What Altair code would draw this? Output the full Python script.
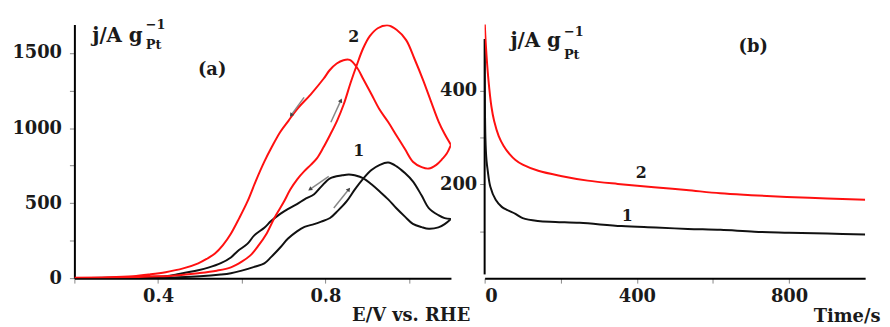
import altair as alt
import pandas as pd

# ---------------- Panel (a): cyclic voltammograms ----------------
# curve 1 (black) forward scan
E1_fwd = [0.20, 0.30, 0.40, 0.45, 0.50, 0.55, 0.574, 0.60, 0.63, 0.654, 0.67, 0.692, 0.71, 0.732,
          0.75, 0.773, 0.79, 0.811, 0.83, 0.851, 0.87, 0.891, 0.91, 0.93, 0.95, 0.97, 0.99, 1.009,
          1.03, 1.047, 1.07, 1.085, 1.10]
J1_fwd = [0, 1, 3, 6, 12, 24, 33, 50, 75, 99, 140, 204, 262, 312,
          342, 360, 377, 401, 450, 513, 590, 665, 720, 755, 770, 745, 700, 645,
          550, 467, 420, 400, 395]
# curve 1 (black) reverse scan
E1_rev = [1.10, 1.085, 1.07, 1.047, 1.03, 1.009, 0.99, 0.969, 0.95, 0.929, 0.91, 0.891, 0.87, 0.856,
          0.84, 0.811, 0.79, 0.773, 0.75, 0.732, 0.71, 0.692, 0.67, 0.654, 0.63, 0.614, 0.59, 0.574,
          0.55, 0.52, 0.496, 0.45, 0.418, 0.38, 0.34, 0.20]
J1_rev = [395, 360, 338, 329, 340, 362, 410, 467, 525, 579, 625, 665, 685, 691,
          685, 665, 610, 559, 525, 493, 460, 428, 380, 336, 285, 230, 180, 138,
          100, 70, 53, 28, 13, 8, 5, 0]
# curve 2 (red) forward scan
E2_fwd = [0.20, 0.30, 0.40, 0.45, 0.496, 0.54, 0.574, 0.60, 0.62, 0.638, 0.66, 0.678, 0.70, 0.716,
          0.733, 0.749, 0.765, 0.78, 0.795, 0.811, 0.828, 0.844, 0.86, 0.875, 0.89, 0.906, 0.925,
          0.948, 0.97, 0.993, 1.013, 1.033, 1.052, 1.071, 1.085, 1.10]
J2_fwd = [2, 4, 12, 20, 33, 50, 72, 110, 150, 210, 300, 401, 505, 590,
          660, 711, 755, 800, 870, 954, 1050, 1160, 1300, 1420, 1530, 1612, 1665,
          1685, 1655, 1586, 1460, 1323, 1180, 1040, 960, 888]
# curve 2 (red) reverse scan
E2_rev = [1.10, 1.09, 1.08, 1.065, 1.047, 1.03, 1.009, 0.99, 0.969, 0.95, 0.929, 0.91, 0.891, 0.875,
          0.858, 0.843, 0.827, 0.81, 0.796, 0.765, 0.732, 0.712, 0.692, 0.673, 0.654, 0.634, 0.614,
          0.594, 0.574, 0.555, 0.536, 0.516, 0.496, 0.46, 0.418, 0.38, 0.34, 0.28, 0.20]
J2_rev = [888, 830, 796, 755, 730, 740, 776, 860, 954, 1040, 1125, 1225, 1323, 1405,
          1454, 1452, 1430, 1385, 1330, 1225, 1125, 1050, 974, 880, 776, 650, 513,
          400, 296, 220, 164, 128, 99, 65, 40, 25, 13, 6, 3]

# scan-direction arrows (start E, start j, end E, end j)
arrow_E1 = [0.749, 0.813, 0.808, 0.820]
arrow_J1 = [1204, 1039, 678, 467]
arrow_E2 = [0.718, 0.837, 0.763, 0.856]
arrow_J2 = [1086, 1184, 592, 592]
arrow_angle = [216, 24, 236, 38]

# ---------------- Panel (b): chronoamperometry ----------------
t1 = [0, 2, 5, 8, 15, 29, 45, 60, 81, 100, 140, 186, 250, 360, 450, 534, 620, 709, 800, 900, 1000]
j1 = [510, 300, 250, 230, 195, 167, 152, 145, 137, 128, 122, 120, 118, 111, 108, 105, 103, 99, 97, 95, 93]
t2 = [0, 3, 10, 18, 25, 37, 50, 65, 81, 100, 141, 200, 271, 350, 445, 530, 619, 700, 794, 900, 1000]
j2 = [550, 500, 423, 365, 335, 303, 282, 265, 252, 242, 229, 218, 208, 201, 194, 188, 181, 177, 173, 170, 167]

series_names = ["1", "2"]
series_colors = ["#111111", "#ff1010"]

FONT = "DejaVu Serif"


def loop(E_f, J_f, E_r, J_r, name):
    E = E_f + E_r
    J = J_f + J_r
    return pd.DataFrame({"E": E, "j": J, "s": name, "i": list(range(len(E)))})


cv = pd.concat([loop(E1_fwd, J1_fwd, E1_rev, J1_rev, "1"),
                loop(E2_fwd, J2_fwd, E2_rev, J2_rev, "2")], ignore_index=True)
ca = pd.concat([pd.DataFrame({"t": t1, "j": j1, "s": "1", "i": range(len(t1))}),
                pd.DataFrame({"t": t2, "j": j2, "s": "2", "i": range(len(t2))})], ignore_index=True)
arrows = pd.DataFrame({"E1": arrow_E1, "J1": arrow_J1, "E2": arrow_E2, "J2": arrow_J2, "ang": arrow_angle})

axis_common = dict(labelFont=FONT, labelFontWeight="bold", labelFontSize=18, labelColor="#1a1a1a",
                   tickColor="#888888", tickSize=5, tickWidth=1, domainColor="#000000",
                   domainWidth=2, grid=False,
                   titleFont=FONT, titleFontWeight="bold", titleFontSize=18, titleColor="#1a1a1a")

color_enc = alt.Color("s:N", scale=alt.Scale(domain=series_names, range=series_colors), legend=None)

W_A, W_B, H = 380, 384, 256

xa = alt.X("E:Q", scale=alt.Scale(domain=[0.2, 1.1], nice=False, zero=False),
           axis=alt.Axis(values=[0.2, 0.4, 0.6, 0.8, 1.0], format=".1f", labelPadding=5,
                         labelExpr="(abs(datum.value-0.4)<0.01 || abs(datum.value-0.8)<0.01) ? datum.label : ''",
                         title="E/V vs. RHE", titleX=399, titleY=38, titleAlign="right",
                         titleBaseline="middle", **axis_common))
ya = alt.Y("j:Q", scale=alt.Scale(domain=[0, 1690], nice=False),
           axis=alt.Axis(values=[0, 250, 500, 750, 1000, 1250, 1500], format="d", labelPadding=8,
                         labelExpr="datum.value % 500 == 0 ? datum.label : ''",
                         title=None, **axis_common))

cv_lines = alt.Chart(cv).mark_line(strokeWidth=2, clip=True, interpolate="catmull-rom").encode(
    x=xa, y=ya, color=color_enc, detail="s:N", order="i:Q")

arrow_shaft = alt.Chart(arrows).mark_rule(color="#888888", strokeWidth=1.5).encode(
    x="E1:Q", y="J1:Q", x2="E2:Q", y2="J2:Q")
arrow_head = alt.Chart(arrows).mark_point(shape="triangle-up", filled=True, size=22,
                                          color="#444444", opacity=1).encode(
    x="E2:Q", y="J2:Q", angle=alt.Angle("ang:Q", scale=None))


def txt(s, x, y, size=18, align="left", baseline="alphabetic"):
    return alt.Chart(pd.DataFrame({"t": [s]})).mark_text(
        font=FONT, fontWeight="bold", fontSize=size, color="#1a1a1a",
        align=align, baseline=baseline).encode(text="t:N", x=alt.value(x), y=alt.value(y))


label_j = "j/A g"
label_sup = "\u22121"
label_sub = "Pt"
panel_a_tag = "(a)"
panel_b_tag = "(b)"

panel_a = alt.layer(
    cv_lines, arrow_shaft, arrow_head,
    txt(label_j, 18, 18, 20), txt(label_sup, 72, 1, 13, baseline="middle"),
    txt(label_sub, 72, 21, 13, baseline="middle"),
    txt(panel_a_tag, 139, 46, align="center", baseline="middle"),
    txt("2", 282, 13, 16, align="center", baseline="middle"),
    txt("1", 287, 128, 16, align="center", baseline="middle"),
).properties(width=W_A, height=H)

xb = alt.X("t:Q", scale=alt.Scale(domain=[0, 1000], nice=False),
           axis=alt.Axis(values=[0, 200, 400, 600, 800], format="d", labelPadding=5,
                         labelExpr="datum.value % 400 == 0 ? datum.label : ''",
                         title="Time/s", titleX=399, titleY=39, titleAlign="right",
                         titleBaseline="middle", **axis_common))
yb = alt.Y("j:Q", scale=alt.Scale(domain=[8, 541], nice=False),
           axis=alt.Axis(values=[100, 200, 300, 400], format="d", labelPadding=3,
                         labelExpr="datum.value % 200 == 0 ? datum.label : ''",
                         title=None, domain=False, **axis_common))

ca_lines = alt.Chart(ca).mark_line(strokeWidth=2, clip=True, interpolate="catmull-rom").encode(
    x=xb, y=yb, color=color_enc, detail="s:N", order="i:Q")
axis_rule = alt.Chart(pd.DataFrame({"t": [0], "a": [8], "b": [510]})).mark_rule(
    color="#000000", strokeWidth=2).encode(x="t:Q", y="a:Q", y2="b:Q")

panel_b = alt.layer(
    axis_rule, ca_lines,
    txt(label_j, 26, 23, 20), txt(label_sup, 80, 8, 13, baseline="middle"),
    txt(label_sub, 80, 31, 13, baseline="middle"),
    txt(panel_b_tag, 271, 23, align="center", baseline="middle"),
    txt("2", 158, 150, 16, align="center", baseline="middle"),
    txt("1", 144, 193, 16, align="center", baseline="middle"),
).properties(width=W_B, height=H)

chart = alt.hconcat(panel_a, panel_b, spacing=34, bounds="flush").configure_view(
    stroke=None).properties(
    autosize=alt.AutoSizeParams(type="none"),
    padding={"left": 67, "top": 14, "right": 815, "bottom": 305})

chart.save("out.html", embed_options={"renderer": "svg", "actions": False})
